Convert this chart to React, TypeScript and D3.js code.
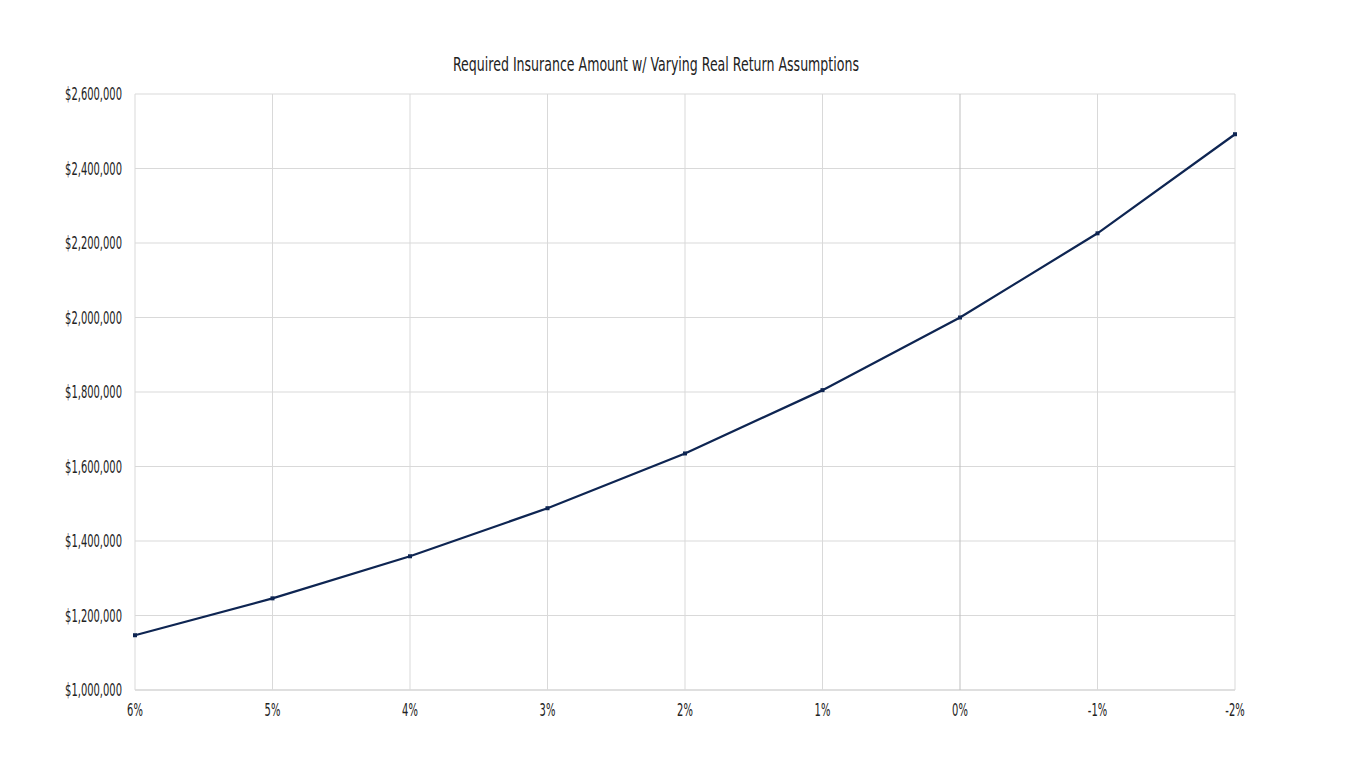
import React from "react";
import * as d3 from "d3";

const rates: number[] = [6, 5, 4, 3, 2, 1, 0, -1, -2];
const amounts: number[] = [1147000, 1246000, 1359000, 1488000, 1635000, 1805000, 2000000, 2226000, 2492000];
const yTicks: number[] = [1000000, 1200000, 1400000, 1600000, 1800000, 2000000, 2200000, 2400000, 2600000];
const title = "Required Insurance Amount w/ Varying Real Return Assumptions";

const W = 1366;
const H = 768;
const left = 135;
const right = 1235;
const top = 94;
const bottom = 690;
const FONT = "'DejaVu Sans Condensed', 'DejaVu Sans', sans-serif";
const SX = 0.65;

export default function App() {
  const x = d3.scaleLinear().domain([6, -2]).range([left, right]);
  const y = d3.scaleLinear().domain([1000000, 2600000]).range([bottom, top]);
  const line = d3
    .line<number>()
    .x((_, i) => x(rates[i]))
    .y((d) => y(d));
  const fmt = (v: number) => "$" + d3.format(",")(v);
  const pct = (v: number) => `${v}%`;

  return (
    <svg
      width={W}
      height={H}
      style={{ position: "absolute", left: 0, top: 0, background: "#fff" }}
    >
      <rect x={0} y={0} width={W} height={H} fill="#fff" />
      <text
        x={656}
        y={71}
        textAnchor="middle"
        fontFamily={FONT}
        fontSize={19}
        fill="#222"
        textLength={406}
        lengthAdjust="spacingAndGlyphs"
      >
        {title}
      </text>
      {yTicks.map((t) => (
        <line
          key={"h" + t}
          x1={left}
          x2={right}
          y1={y(t)}
          y2={y(t)}
          stroke={t === 1000000 ? "#bfbfbf" : "#d9d9d9"}
          strokeWidth={1}
        />
      ))}
      {rates.map((r) => (
        <line
          key={"v" + r}
          x1={x(r)}
          x2={x(r)}
          y1={top}
          y2={bottom}
          stroke={r === 0 ? "#bfbfbf" : "#d9d9d9"}
          strokeWidth={1}
        />
      ))}
      {yTicks.map((t) => (
        <text
          key={"yl" + t}
          transform={`translate(122,${y(t) + 6}) scale(${SX},1)`}
          textAnchor="end"
          fontFamily={FONT}
          fontSize={17}
          fill="#222"
        >
          {fmt(t)}
        </text>
      ))}
      {rates.map((r) => (
        <text
          key={"xl" + r}
          transform={`translate(${x(r)},716) scale(${SX},1)`}
          textAnchor="middle"
          fontFamily={FONT}
          fontSize={17}
          fill="#222"
        >
          {pct(r)}
        </text>
      ))}
      <path d={line(amounts) || ""} fill="none" stroke="#0e2552" strokeWidth={2.25} />
      {amounts.map((a, i) => (
        <rect
          key={"m" + i}
          x={x(rates[i]) - 2}
          y={y(a) - 2}
          width={4}
          height={4}
          fill="#0e2552"
        />
      ))}
    </svg>
  );
}
